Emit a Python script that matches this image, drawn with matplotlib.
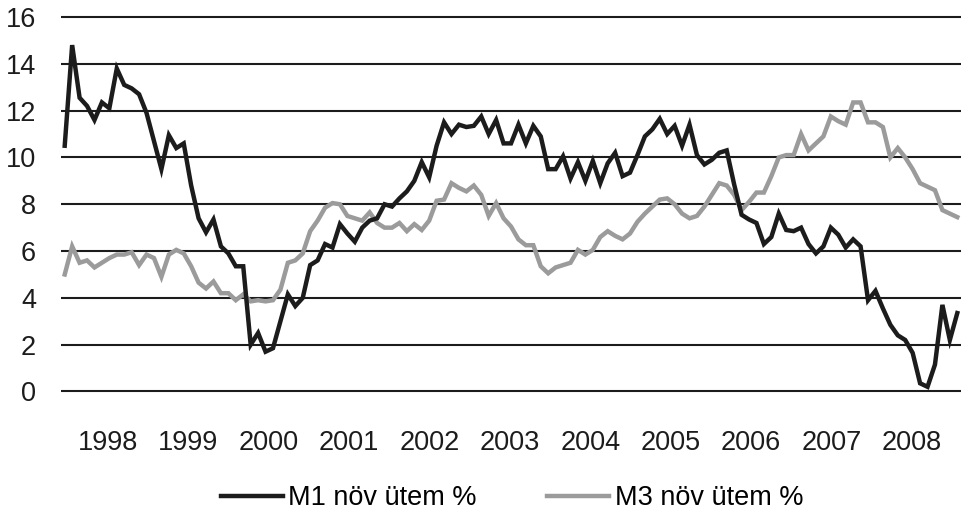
import numpy as np
import matplotlib
matplotlib.use('Agg')
import matplotlib.pyplot as plt

plt.rcParams['font.family'] = ['Liberation Sans', 'DejaVu Sans']

# havi adatok, 1998-tol
m1 = [10.5, 14.8, 12.55, 12.2, 11.6, 12.35, 12.1, 13.8, 13.1, 12.95,
      12.7, 11.9, 10.7, 9.5, 10.95, 10.4, 10.6, 8.8, 7.4, 6.8,
      7.35, 6.2, 5.9, 5.35, 5.35, 2.0, 2.5, 1.7, 1.85, 3.0,
      4.15, 3.65, 4.0, 5.4, 5.6, 6.3, 6.15, 7.15, 6.75, 6.4,
      7.0, 7.3, 7.4, 8.0, 7.9, 8.25, 8.55, 9.0, 9.8, 9.15,
      10.5, 11.5, 11.0, 11.4, 11.3, 11.35, 11.75, 11.0, 11.6, 10.6,
      10.6, 11.4, 10.6, 11.35, 10.9, 9.5, 9.5, 10.05, 9.1, 9.8,
      9.0, 9.85, 8.9, 9.75, 10.2, 9.2, 9.35, 10.1, 10.9, 11.2,
      11.65, 11.0, 11.35, 10.5, 11.4, 10.1, 9.7, 9.9, 10.2, 10.3,
      8.85, 7.55, 7.35, 7.2, 6.3, 6.6, 7.6, 6.9, 6.85, 7.0,
      6.3, 5.9, 6.2, 7.0, 6.7, 6.15, 6.5, 6.2, 3.9, 4.3,
      3.55, 2.85, 2.4, 2.2, 1.65, 0.35, 0.2, 1.15, 3.7, 2.2,
      3.35]
m3 = [5.0, 6.2, 5.5, 5.6, 5.3, 5.5, 5.7, 5.85, 5.85, 5.95,
      5.4, 5.85, 5.7, 4.9, 5.85, 6.05, 5.9, 5.35, 4.65, 4.4,
      4.7, 4.2, 4.2, 3.9, 4.15, 3.85, 3.9, 3.85, 3.9, 4.35,
      5.5, 5.6, 5.9, 6.85, 7.3, 7.85, 8.05, 8.0, 7.5, 7.4,
      7.3, 7.65, 7.2, 7.0, 7.0, 7.2, 6.85, 7.15, 6.9, 7.3,
      8.15, 8.2, 8.9, 8.7, 8.55, 8.8, 8.4, 7.5, 8.05, 7.4,
      7.05, 6.5, 6.25, 6.25, 5.35, 5.05, 5.3, 5.4, 5.5, 6.05,
      5.85, 6.05, 6.6, 6.85, 6.65, 6.5, 6.75, 7.25, 7.6, 7.9,
      8.2, 8.25, 8.0, 7.6, 7.4, 7.5, 7.9, 8.4, 8.9, 8.8,
      8.4, 7.75, 8.1, 8.5, 8.5, 9.2, 10.0, 10.1, 10.1, 11.0,
      10.3, 10.6, 10.9, 11.75, 11.55, 11.4, 12.35, 12.35, 11.5, 11.5,
      11.3, 10.0, 10.4, 10.0, 9.5, 8.9, 8.75, 8.6, 7.75, 7.6,
      7.45]
years = ['1998', '1999', '2000', '2001', '2002', '2003', '2004',
         '2005', '2006', '2007', '2008']

n = len(m1)
x = np.arange(n)

fig = plt.figure(figsize=(9.61, 5.13), dpi=100)
ax = fig.add_axes([61 / 961, 0.2323, 900 / 961, 0.7391])

ax.plot(x, m1, color='#1c1c1c', linewidth=3.2, label='M1 növ ütem %',
        solid_joinstyle='miter', zorder=3)
ax.plot(x, m3, color='#9b9b9b', linewidth=3.2, label='M3 növ ütem %',
        solid_joinstyle='miter', zorder=2)

ax.set_xlim(-0.5, n - 0.5)
ax.set_ylim(-0.1, 16.1)
ax.set_yticks(np.arange(0, 17, 2))
ax.set_xticks(np.linspace(5.8, 113.9, len(years)))
ax.set_xticklabels(years)
ax.grid(axis='y', color='#1c1c1c', linewidth=1.5)
ax.set_axisbelow(True)
for s in ax.spines.values():
    s.set_visible(False)
ax.tick_params(axis='both', length=0, labelsize=19.5, colors='#1c1c1c')
ax.tick_params(axis='y', pad=18)
ax.tick_params(axis='x', pad=26)

fig.legend(loc='center', bbox_to_anchor=(512 / 961, 1 - 498 / 513),
           ncol=2, frameon=False, fontsize=19.5, handlelength=2.3,
           handletextpad=0.2, columnspacing=2.6)

plt.savefig('out.png', dpi=100)
